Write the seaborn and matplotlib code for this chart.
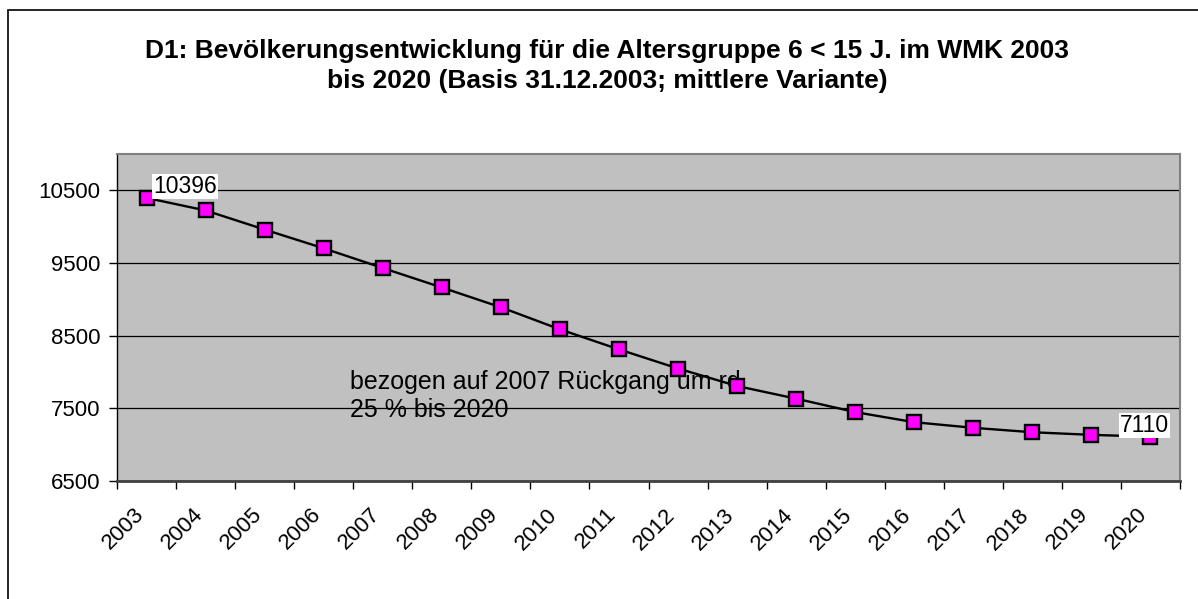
import matplotlib
matplotlib.use("Agg")
import matplotlib.pyplot as plt
import matplotlib.transforms as mtransforms
from matplotlib.patches import Rectangle
import seaborn as sns
import pandas as pd
import numpy as np

years = [str(y) for y in range(2003, 2021)]
population = [10396, 10223, 9960, 9702, 9431, 9163, 8891, 8587, 8311, 8048,
              7807, 7633, 7448, 7309, 7232, 7171, 7135, 7110]
y_ticks = [6500, 7500, 8500, 9500, 10500]
title = ("D1: Bevölkerungsentwicklung für die Altersgruppe 6 < 15 J. im WMK 2003\n"
         "bis 2020 (Basis 31.12.2003; mittlere Variante)")
note = "bezogen auf 2007 Rückgang um rd.\n25 % bis 2020"

sns.set_style("white")
plt.rcParams['font.family'] = ['Liberation Sans', 'DejaVu Sans']
plt.rcParams['text.color'] = 'black'
plt.rcParams['xtick.color'] = 'black'
plt.rcParams['ytick.color'] = 'black'

df = pd.DataFrame({"pos": np.arange(len(years)), "year": years, "value": population})

fig = plt.figure(figsize=(11.98, 5.99), dpi=100)
fig.patch.set_facecolor("white")
# outer chart frame (extends beyond image on right/bottom)
fig.patches.append(Rectangle((8 / 1198, -0.1), 1.2, 1 - 10 / 599 + 0.1,
                             transform=fig.transFigure, fill=False,
                             edgecolor="black", linewidth=1.2))

ax = fig.add_axes([117 / 1198, 1 - 481 / 599, (1180 - 117) / 1198, (481 - 154) / 599])
ax.set_facecolor("#C0C0C0")

sns.lineplot(data=df, x="pos", y="value", ax=ax, color="black", linewidth=1.7,
             marker="s", markersize=10, markerfacecolor="#FF00FF",
             markeredgecolor="black", markeredgewidth=1.7, zorder=3)

ax.set_xlim(-0.5, len(years) - 0.5)
ax.set_ylim(6500, 11000)
ax.set_yticks(y_ticks)
ax.set_yticklabels([str(t) for t in y_ticks], fontsize=16)
ax.yaxis.grid(True, color="black", linewidth=0.9)
ax.set_axisbelow(True)
ax.tick_params(axis="y", length=6, width=1, color="black", direction="out", left=True, pad=6)

ax.set_xticks(np.arange(len(years) + 1) - 0.5)
ax.set_xticklabels([])
ax.tick_params(axis="x", which="major", length=6, width=1, color="black", direction="out", bottom=True)
ax.set_xticks(np.arange(len(years)), minor=True)
ax.set_xticklabels(years, minor=True, fontsize=16, rotation=45, ha="right",
                   va="center", rotation_mode="anchor")
ax.tick_params(axis="x", which="minor", length=0, pad=22)
offset = mtransforms.ScaledTranslation(-6 / 100, 0, fig.dpi_scale_trans)
for lbl in ax.get_xticklabels(minor=True):
    lbl.set_transform(lbl.get_transform() + offset)

ax.set_xlabel("")
ax.set_ylabel("")
for side in ["top", "right"]:
    ax.spines[side].set_color("#808080")
    ax.spines[side].set_linewidth(1.5)
ax.spines["left"].set_color("black")
ax.spines["bottom"].set_color("#404040")
ax.spines["left"].set_linewidth(1.0)
ax.spines["bottom"].set_linewidth(2.0)

# data labels
ax.annotate(str(population[0]), (0, population[0]), xytext=(5, 0),
            textcoords="offset points", fontsize=16.5, ha="left", va="bottom",
            bbox=dict(boxstyle="square,pad=0.05", fc="white", ec="none"), zorder=4)
ax.annotate(str(population[-1]), (len(years) - 1, population[-1]), xytext=(-22, 0),
            textcoords="offset points", fontsize=16.5, ha="left", va="bottom",
            bbox=dict(boxstyle="square,pad=0.05", fc="white", ec="none"), zorder=4)

ax.text(3.44, 8030, note, fontsize=18, ha="left", va="top", linespacing=1.2, zorder=2)

fig.text(607 / 1198, 1 - 66 / 599, title, fontsize=19, fontweight="bold", ha="center",
         va="center", linespacing=1.3)

fig.savefig("out.png", dpi=100)
